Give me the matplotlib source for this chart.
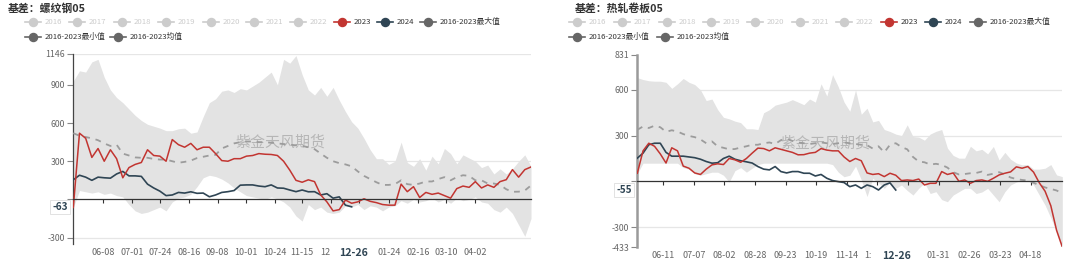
import matplotlib
matplotlib.use('Agg')
import matplotlib.pyplot as plt
import matplotlib.dates as mdates
import pandas as pd
from matplotlib.lines import Line2D

plt.rcParams['font.family'] = ['Noto Sans CJK SC', 'DejaVu Sans']

# ---------------- data: 螺纹钢05 ----------------
rb_start, rb_end = '2023-05-15', '2024-05-17'
rb_max = [930, 1010, 1000, 1080, 1100, 960, 860, 800, 760, 710, 660, 620, 590, 575, 560, 540, 540, 555, 560, 520,
          530, 650, 760, 790, 850, 860, 840, 870, 860, 890, 920, 960, 1000, 900, 1100, 1070, 1130, 980, 860, 820,
          880, 810, 880, 780, 690, 610, 560, 480, 390, 320, 320, 275, 300, 450, 290, 260, 320, 230, 340, 280,
          400, 360, 280, 350, 325, 300, 250, 270, 200, 240, 200, 240, 300, 350, 260]
rb_min = [-63, 70, 60, 50, 60, 40, 50, 30, 20, -40, -90, -110, -100, -80, -60, -90, -20, 10, 20, 40,
          100, 170, 190, 180, 160, 130, 90, 60, 30, 20, 10, 0, 20, 5, -20, -60, -130, -170, -40, -80,
          -60, -100, -110, -100, -50, -60, -40, -80, -50, -60, -90, -60, -50, -10, -30, 0, -20, -10, 10, -20,
          0, -30, 10, -10, 0, 20, -20, -30, -80, -100, -60, -110, -200, -290, -150]
rb_mean = [520, 500, 490, 480, 465, 440, 420, 430, 360, 345, 330, 327, 327, 318, 313, 313, 300, 288, 295, 305,
           325, 335, 345, 350, 400, 420, 440, 450, 455, 455, 450, 450, 445, 440, 435, 430, 425, 420, 410, 395,
           360, 327, 300, 285, 275, 260, 220, 185, 160, 135, 114, 114, 120, 150, 120, 114, 125, 141, 141, 160,
           175, 150, 175, 190, 185, 150, 150, 125, 125, 114, 80, 60, 61, 70, 110]
rb_2023 = [-63, 520, 480, 330, 400, 300, 390, 320, 170, 250, 275, 290, 390, 345, 340, 300, 470, 430, 410, 440,
           390, 410, 410, 360, 305, 300, 320, 320, 340, 345, 360, 355, 353, 345, 300, 230, 150, 135, 154, 140,
           35, -19, -90, -80, -5, -30, -19, 5, -15, -25, -40, -45, -45, 120, 61, 100, 15, 55, 40, 50,
           30, 10, 85, 105, 95, 140, 90, 114, 95, 140, 155, 234, 175, 234, 255]
rb_2024 = [154, 190, 175, 150, 175, 170, 167, 200, 220, 185, 185, 181, 120, 90, 65, 30, 35, 55, 50, 60,
           48, 50, 21, 35, 55, 61, 70, 112, 114, 114, 105, 100, 114, 90, 88, 74, 61, 74, 60, 61,
           35, 45, 10, 20, -45, -58]
rb_ticks = ['2023-06-08', '2023-07-01', '2023-07-24', '2023-08-16', '2023-09-08', '2023-10-01', '2023-10-24',
            '2023-11-15', '2023-12-08', '2023-12-31', '2024-01-24', '2024-02-16', '2024-03-10', '2024-04-02']
# tick labels as displayed (one partly covered by the pointer label, one fully covered)
rb_tick_labels = ['06-08', '07-01', '07-24', '08-16', '09-08', '10-01', '10-24',
                  '11-15', '12', '', '01-24', '02-16', '03-10', '04-02']
rb_yticks = [1146, 900, 600, 300, 0, -300]
rb_ytick_labels = ['1146', '900', '600', '300', '', '-300']

# ---------------- data: 热轧卷板05 ----------------
hc_start, hc_end = '2023-05-20', '2024-05-15'
hc_max = [680, 668, 660, 657, 657, 650, 610, 640, 675, 650, 635, 600, 530, 540, 470, 420, 410, 395, 385, 345,
          345, 340, 450, 470, 500, 510, 520, 536, 520, 503, 540, 520, 640, 560, 700, 620, 520, 460, 600, 440,
          480, 390, 400, 340, 327, 310, 300, 371, 294, 290, 270, 310, 328, 340, 218, 170, 152, 152, 230, 200,
          210, 180, 229, 140, 190, 145, 120, 108, 110, 80, 80, 86, 110, 42, 31]
hc_min = [50, 119, 119, 119, 119, 119, 119, 119, 90, 80, 50, 40, 50, 60, 60, 40, -5, 70, 90, 60,
          86, 110, 119, 119, 119, 119, 119, 119, 119, 119, 119, 119, 119, 119, 110, 60, 30, 40, 100, 10,
          -100, 20, -10, -46, -5, -46, -24, -60, -90, -46, -10, -80, -68, -120, -134, -90, -68, -46, -46, -80,
          -70, -46, -90, -134, -68, -24, -5, 9, 5, -24, -90, -156, -240, -330, -433]
hc_mean = [338, 360, 350, 365, 355, 325, 335, 327, 310, 298, 290, 275, 250, 262, 229, 220, 210, 212, 222, 230,
           240, 240, 250, 255, 245, 270, 280, 265, 255, 250, 245, 250, 255, 250, 245, 250, 255, 250, 245, 240,
           237, 215, 230, 190, 240, 250, 225, 210, 160, 130, 125, 110, 115, 108, 90, 60, 45, 48, 53, 55,
           64, 42, 50, 60, 45, 25, 15, 9, 5, -10, -25, -40, -50, -60, -79]
hc_2023 = [53, 200, 250, 230, 180, 120, 220, 200, 100, 86, 55, 45, 80, 108, 115, 110, 150, 141, 125, 150,
           185, 218, 215, 200, 220, 210, 200, 190, 174, 175, 185, 190, 215, 205, 200, 200, 160, 130, 150, 135,
           55, 45, 50, 31, 53, 40, 5, 9, 5, 15, -24, -13, -13, 64, 45, 55, 0, 9, -13, 5,
           9, 0, 20, 42, 53, 62, 95, 86, 97, 60, -10, -65, -160, -321, -431]
hc_2024 = [152, 185, 240, 250, 250, 190, 165, 165, 165, 160, 155, 145, 130, 119, 122, 150, 165, 145, 135, 128,
           120, 97, 80, 75, 97, 64, 55, 64, 64, 53, 53, 35, 45, 20, 5, -2, -8, -35, -24, -46,
           -24, -35, -57, -24, -10, -57]
hc_ticks = ['2023-06-11', '2023-07-07', '2023-08-02', '2023-08-28', '2023-09-23', '2023-10-19', '2023-11-14',
            '2023-12-10', '2024-01-05', '2024-01-31', '2024-02-26', '2024-03-23', '2024-04-18']
hc_tick_labels = ['06-11', '07-07', '08-02', '08-28', '09-23', '10-19', '11-14',
                  '1:', '', '01-31', '02-26', '03-23', '04-18']
hc_yticks = [831, 600, 300, 0, -300, -433]
hc_ytick_labels = ['831', '600', '300', '', '-300', '-433']

legend_years = ['2016', '2017', '2018', '2019', '2020', '2021', '2022']

W, H = 1080, 265
fig = plt.figure(figsize=(W / 100, H / 100), dpi=100)


def fx(px):
    return px / W


def fy(py):
    return 1 - py / H


C_RED = '#c23531'
C_BLUE = '#2f4554'
C_MEAN = '#9c9c9c'
C_BAND = '#e3e3e3'


def panel(rect, start, end, vmax, vmin, vmean, v23, v24, ylim, yticks, ylabels, grid_vals, ticks, tick_labels,
          partial_shift, ptr_date, ptr_val, spine_color, spine_w, wm_pos):
    ax = fig.add_axes(rect)
    dates = pd.date_range(start, end, periods=len(vmax))
    ax.fill_between(dates, vmin, vmax, color=C_BAND, lw=0, zorder=1)
    for g in grid_vals:
        ax.axhline(g, color='#e6e6e6', lw=0.9, zorder=0.5)
    ax.text(wm_pos[0], wm_pos[1], '紫金天风期货', transform=ax.transAxes, fontsize=10.8,
            color='#a8a8a8', alpha=0.75, ha='center', va='center', zorder=2)
    ax.plot(dates, vmean, color=C_MEAN, lw=1.3, ls=(0, (3.2, 3.2)), zorder=3)
    ax.plot(dates[:len(v24)], v24, color=C_BLUE, lw=1.2, zorder=4)
    ax.plot(dates, v23, color=C_RED, lw=1.1, zorder=5)
    ax.set_xlim(pd.Timestamp(start), pd.Timestamp(end))
    ax.set_ylim(*ylim)
    for s in ['top', 'right']:
        ax.spines[s].set_visible(False)
    ax.spines['left'].set_color(spine_color)
    ax.spines['left'].set_linewidth(spine_w)
    ax.spines['bottom'].set_position(('data', 0))
    ax.spines['bottom'].set_color('#333333')
    ax.spines['bottom'].set_linewidth(0.9)
    ax.spines['bottom'].set_zorder(6)
    tds = pd.to_datetime(ticks)
    ax.set_xticks(tds)
    ax.tick_params(axis='x', length=3, width=0.8, color='#333333', direction='out', labelbottom=False)
    ax.set_yticks(yticks)
    ax.set_yticklabels(ylabels)
    ax.tick_params(axis='y', length=4, width=0.8, color='#888888', labelsize=6.3, labelcolor='#666666', pad=2)
    ax.grid(False)
    xt = ax.get_xaxis_transform()
    ylab = -8.5 / (rect[3] * H)
    for d, lab in zip(tds, tick_labels):
        if not lab:
            continue
        if len(lab) < 5:
            ax.annotate(lab, xy=(mdates.date2num(d), ylab), xycoords=xt, xytext=(partial_shift, 0),
                        textcoords='offset points', ha='center', va='center',
                        fontsize=6.5, color='#666666', zorder=7)
        else:
            ax.text(d, ylab, lab, transform=xt, ha='center', va='center',
                    fontsize=6.5, color='#666666', zorder=7)
    ax.text(pd.Timestamp(ptr_date), ylab, ptr_date[5:], transform=xt, ha='center', va='center',
            fontsize=7.6, fontweight='bold', color=C_BLUE, zorder=20)
    ax.text(-5.5 / (rect[2] * W), ptr_val, str(ptr_val), transform=ax.get_yaxis_transform(),
            ha='right', va='center', fontsize=7.2, fontweight='bold', color=C_BLUE, zorder=20,
            bbox=dict(boxstyle='square,pad=0.2', fc='white', ec='#dddddd', lw=0.6))
    return ax


def legend(title_x, markers_row1, markers_row2, title):
    fig.text(fx(title_x), fy(9), title, fontsize=7.8, fontweight='bold', color='#333333',
             ha='left', va='center')
    labels1 = legend_years + ['2023', '2024', '2016-2023最大值']
    colors1 = ['#cccccc'] * 7 + [C_RED, C_BLUE, '#666666']
    tcol1 = ['#cccccc'] * 7 + ['#333333'] * 3
    items = [(m, 22, l, c, t) for m, l, c, t in zip(markers_row1, labels1, colors1, tcol1)]
    items += [(markers_row2[0], 37, '2016-2023最小值', '#666666', '#333333'),
              (markers_row2[1], 37, '2016-2023均值', '#666666', '#333333')]
    for m, y, lab, c, t in items:
        fig.add_artist(Line2D([fx(m - 8), fx(m + 8)], [fy(y), fy(y)], color=c, lw=1.2,
                              transform=fig.transFigure))
        fig.add_artist(Line2D([fx(m)], [fy(y)], color=c, marker='o', ms=5.8, lw=0,
                              transform=fig.transFigure))
        fig.text(fx(m + 12), fy(y), lab, fontsize=5.6, color=t, ha='left', va='center')


rectL = [fx(73.3), fy(244), fx(531 - 73.3), (244 - 53.5) / H]
panel(rectL, rb_start, rb_end, rb_max, rb_min, rb_mean, rb_2023, rb_2024, (-350, 1146), rb_yticks,
      rb_ytick_labels, [1146, 300, -300], rb_ticks, rb_tick_labels, -4, '2023-12-26', -63,
      '#444444', 0.9, (0.452, 0.535))

rectR = [fx(637.3), fy(247.3), fx(1062.3 - 637.3), (247.3 - 54.7) / H]
panel(rectR, hc_start, hc_end, hc_max, hc_min, hc_mean, hc_2023, hc_2024, (-433, 831), hc_yticks,
      hc_ytick_labels, [600, 300, -300], hc_ticks, hc_tick_labels, -6.5, '2023-12-26', -55,
      '#9a9a9a', 1.8, (0.442, 0.541))

legend(8, [33, 77, 122, 166, 211, 254, 298, 342, 385, 428], [33, 118], '基差：螺纹钢05')
legend(575, [577, 622, 667, 711, 755, 800, 844, 889, 933, 978], [577, 665], '基差：热轧卷板05')

fig.savefig('out.png', dpi=100, facecolor='white')
